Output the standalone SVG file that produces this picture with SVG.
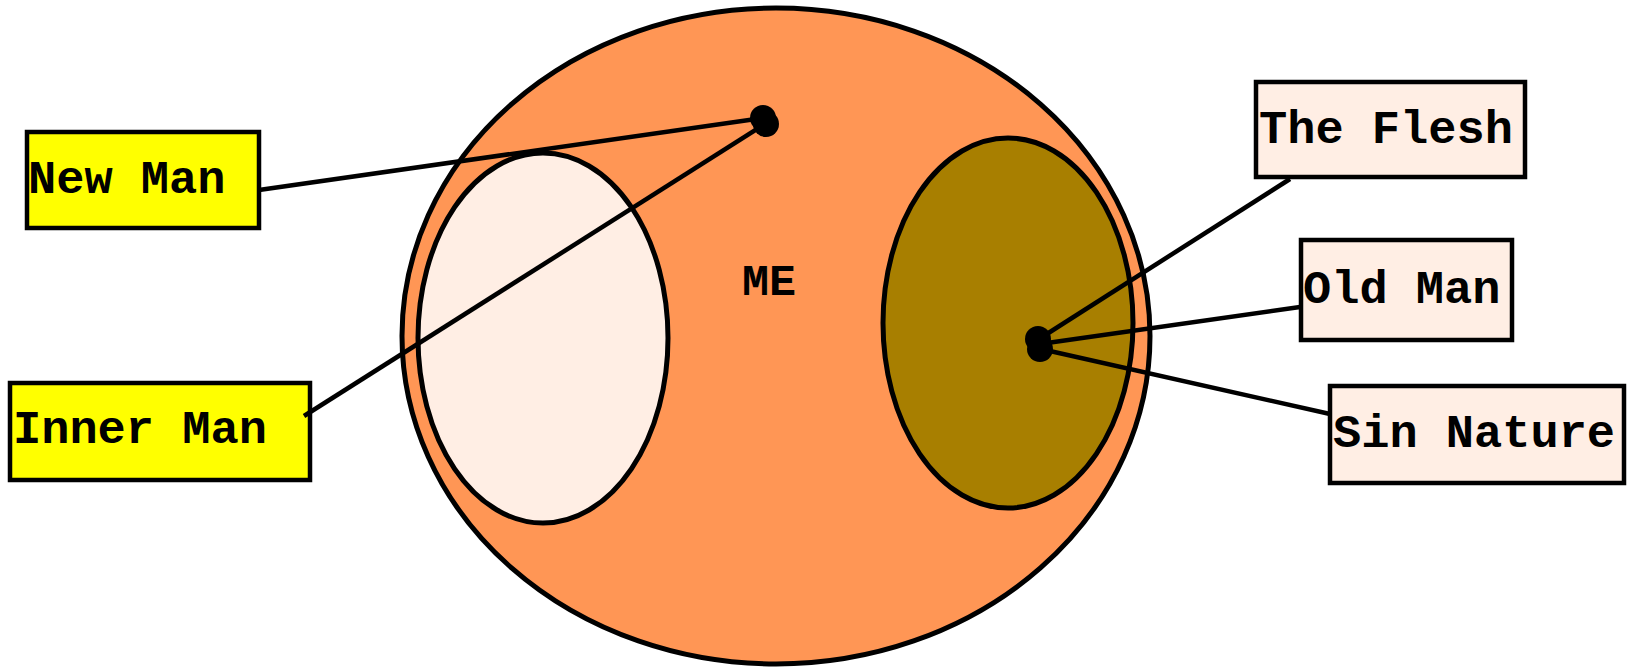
<svg xmlns="http://www.w3.org/2000/svg" width="1627" height="668" viewBox="0 0 1627 668">
<style>
.sh{stroke:#000;stroke-width:5}
.lbl{font-family:"Liberation Mono","Courier New",monospace;font-weight:bold;font-size:47px;fill:#000}
.box{stroke:#000;stroke-width:4.5}
.yel{fill:#FFFF00}
.crm{fill:#FFEEE4}
.ln{stroke:#000;stroke-width:4.5;fill:none}
</style>
<rect width="1627" height="668" fill="#fff"/>
<g id="me">
<ellipse class="sh" cx="776" cy="336" rx="374" ry="328" fill="#FF9655"/>
<text x="742" y="295" font-family="Liberation Mono,'Courier New',monospace" font-weight="bold" font-size="45" fill="#000">ME</text>
</g>
<g id="inner-region">
<ellipse class="sh" cx="543" cy="338" rx="125" ry="185" fill="#FFEEE4"/>
</g>
<g id="flesh-region">
<ellipse class="sh" cx="1008" cy="323" rx="125" ry="185" fill="#A87F00"/>
</g>
<g id="new-man"><rect class="box yel" x="27" y="132" width="232" height="96"/><text class="lbl" x="28" y="193">New Man</text></g>
<g id="inner-man"><rect class="box yel" x="10" y="383" width="300" height="97"/><text class="lbl" x="13" y="443">Inner Man</text></g>
<g id="the-flesh"><rect class="box crm" x="1256" y="82" width="269" height="95"/><text class="lbl" x="1259" y="143">The Flesh</text></g>
<g id="old-man"><rect class="box crm" x="1301" y="240" width="211" height="100"/><text class="lbl" x="1303" y="303">Old Man</text></g>
<g id="sin-nature"><rect class="box crm" x="1330" y="386" width="294" height="97"/><text class="lbl" x="1333" y="447">Sin Nature</text></g>
<g id="connectors">
<line class="ln" x1="259" y1="190" x2="763" y2="118"/>
<line class="ln" x1="304" y1="416" x2="765" y2="124"/>
<line class="ln" x1="1290" y1="179" x2="1039" y2="339"/>
<line class="ln" x1="1300" y1="307" x2="1040" y2="344"/>
<line class="ln" x1="1330" y1="414" x2="1041" y2="349"/>
<circle cx="763" cy="118" r="13" fill="#000"/>
<circle cx="766" cy="124" r="13" fill="#000"/>
<circle cx="1038" cy="339" r="13" fill="#000"/>
<circle cx="1040" cy="349" r="13" fill="#000"/>
</g>
</svg>
